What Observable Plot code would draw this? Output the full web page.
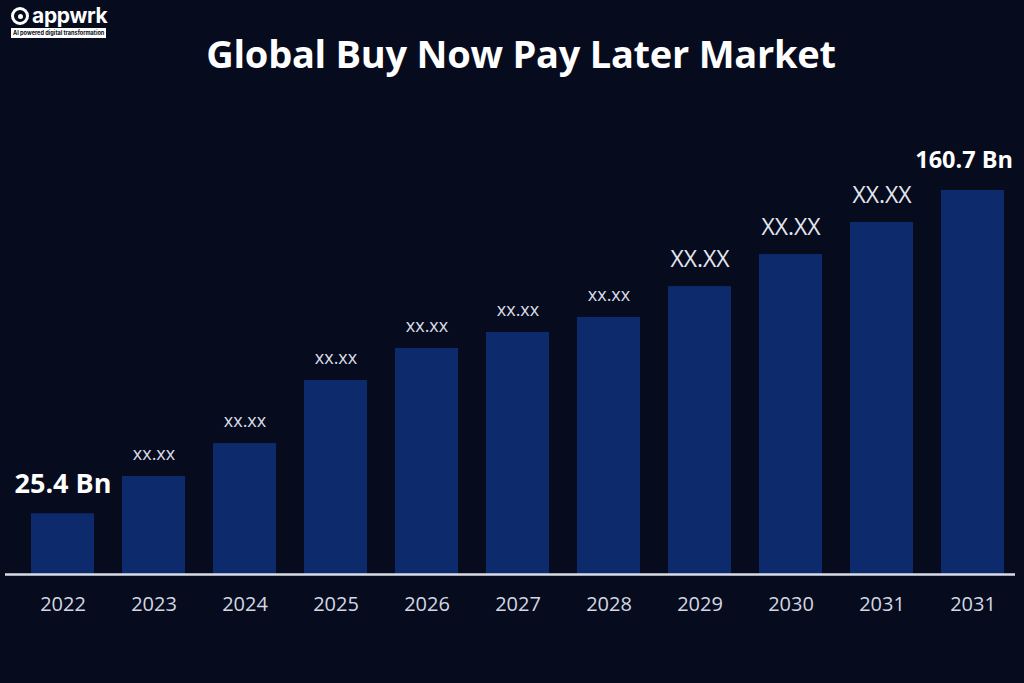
<!DOCTYPE html>
<html>
<head>
<meta charset="utf-8">
<script src="https://cdn.jsdelivr.net/npm/d3@7"></script>
<script src="https://cdn.jsdelivr.net/npm/@observablehq/plot@0.6"></script>
<style>
  html, body { margin: 0; padding: 0; background: #070b1e; width: 1024px; height: 683px; overflow: hidden; }
  body { font-family: "Open Sans", sans-serif; position: relative; }
  #header { position: relative; height: 90px; }
  #title { position: absolute; left: 0; width: 1042px; top: 27px; text-align: center; color: #ffffff; font-weight: 700; font-size: 38px; letter-spacing: -0.25px; }
  #logo { position: absolute; left: 11px; top: 5px; }
  #logo .name { color: #fff; font-weight: 700; font-size: 21px; line-height: 22px; display: flex; align-items: center; font-family: "Inter", sans-serif; letter-spacing: -0.3px; }
  #logo .icon { width: 12px; height: 12px; border: 3px solid #fff; border-radius: 50%; margin-right: 3px; position: relative; }
  #logo .icon::after { content: ""; position: absolute; left: 3.5px; top: 3.5px; width: 5px; height: 5px; background: #fff; border-radius: 50%; }
  #logo .tag { background: #fff; color: #0a0d1c; font-size: 5.6px; line-height: 8px; font-weight: 700; padding: 1px 2px; margin-top: 1px; white-space: nowrap; font-family: "Inter", sans-serif; display: block; width: max-content; }
  #chart svg { display: block; }
</style>
</head>
<body>
<div id="header">
  <div id="logo"><div class="name"><span class="icon"></span>appwrk</div><div class="tag">AI powered digital transformation</div></div>
  <div id="title">Global Buy Now Pay Later Market</div>
</div>
<div id="chart"></div>
<script>
const years = ["2022", "2023", "2024", "2025", "2026", "2027", "2028", "2029", "2030", "2031", "2031"];
const values = [25.4, 41.0, 54.8, 81.2, 94.6, 101.3, 107.6, 120.5, 133.9, 147.3, 160.7];
const valueLabels = ["25.4 Bn", "xx.xx", "xx.xx", "xx.xx", "xx.xx", "xx.xx", "xx.xx", "XX.XX", "XX.XX", "XX.XX", "160.7 Bn"];

const data = years.map((year, i) => ({ i, year, value: values[i], label: valueLabels[i] }));
const kind = d => d.label.endsWith("Bn") ? "big" : (d.label === d.label.toUpperCase() ? "upper" : "lower");
const last = data.length - 1;

const plot = Plot.plot({
  width: 1024,
  height: 593,
  marginLeft: 10,
  marginRight: 0,
  marginTop: 100,
  marginBottom: 109,
  style: { background: "transparent", fontFamily: "Open Sans, sans-serif", overflow: "visible" },
  x: { type: "band", domain: data.map(d => d.i), paddingInner: 0.31, paddingOuter: 0.19, axis: null },
  y: { domain: [0, 160.7], axis: null },
  marks: [
    Plot.barY(data, { x: "i", y: "value", fill: "#0d2a6c" }),
    Plot.ruleY([0], { stroke: "#d9dde6", strokeWidth: 2.5, insetLeft: -5, insetRight: 9 }),
    Plot.text(data, { x: "i", y: 0, text: "year", dy: 30, lineAnchor: "middle", fill: "#d3d8e2", fontSize: 20 }),
    Plot.text(data.filter(d => kind(d) === "lower"), { x: "i", y: "value", text: "label", dy: -22, lineAnchor: "middle", fill: "#d8dce6", fontSize: 18 }),
    Plot.text(data.filter(d => kind(d) === "upper"), { x: "i", y: "value", text: "label", dy: -27, lineAnchor: "middle", fill: "#e2e6ee", fontSize: 23 }),
    Plot.text(data.filter(d => kind(d) === "big" && d.i !== last), { x: "i", y: "value", text: "label", dy: -29, lineAnchor: "middle", fill: "#ffffff", fontSize: 27, fontWeight: 700 }),
    Plot.text(data.filter(d => kind(d) === "big" && d.i === last), { x: "i", y: "value", text: "label", dy: -30, dx: 40, textAnchor: "end", lineAnchor: "middle", fill: "#ffffff", fontSize: 23.5, fontWeight: 700 })
  ]
});
document.getElementById("chart").appendChild(plot);
</script>
</body>
</html>
